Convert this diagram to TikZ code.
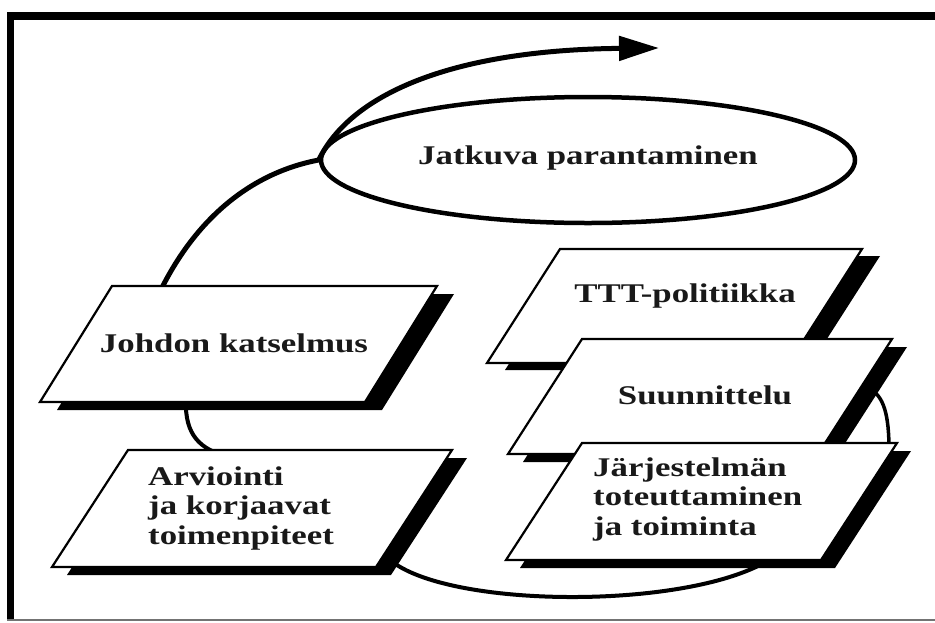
\documentclass[tikz,border=0pt]{standalone}
\usepackage{fontspec}
\newfontfamily\labfont{Liberation Serif}[FakeStretch=1.29]
\usetikzlibrary{arrows.meta,shapes.geometric}
\newcommand\pbox[7]{% TLx TLy width height slant shx shy
  \fill[black] (#1+#6,#2+#7) -- ++(#3,0) -- ++(-#5,#4) -- ++(-#3,0) -- cycle;
  \draw[boxline] (#1,#2) -- ++(#3,0) -- ++(-#5,#4) -- ++(-#3,0) -- cycle;
}
\begin{document}
\begin{tikzpicture}[x=1pt,y=-1pt,
  lab/.style={font=\labfont\bfseries\fontsize{27}{29.5}\selectfont, inner sep=0pt, text=black!90},
  boxline/.style={draw=black, line width=2.2pt, fill=white, line join=miter},
  bigarc/.style={line width=5pt},
  link/.style={line width=4pt},
  ell/.style={ellipse, draw, line width=4.5pt, minimum width=534pt, minimum height=126pt, inner sep=0pt}]
\useasboundingbox (0,0) rectangle (935,622);
\fill[white] (0,0) rectangle (935,622);
% frame
\fill[black] (7,12) rectangle (935,20);
\fill[black] (7,12) rectangle (14,621);
\draw[black!55, line width=1.5pt] (7,620) -- (935,620);

% ellipse
\node[ell] (jp) at (588,160) {};
\node[lab] (jptext) at (588,158) {Jatkuva parantaminen};

% connector coordinates
\coordinate (jtop) at (156,300);
\coordinate (tip) at (659,48);
\coordinate (jbot) at (186,395);
\coordinate (atop) at (225,456);
\coordinate (arb) at (390,560);
\coordinate (jjb) at (775,556);
\coordinate (sur) at (868,388);
\coordinate (jjt) at (889,450);

% connectors
\draw[bigarc] (jtop) .. controls (195,215) and (255,172) .. (jp.west);
\draw[bigarc, -{Triangle[length=40pt,width=24pt]}] (jp.west) .. controls (350,95) and (450,50) .. (tip);
\draw[link] (jbot) .. controls (184,430) and (195,447) .. (atop);
\draw[link] (arb) .. controls (450,610) and (700,610) .. (jjb);
\draw[line width=3.5pt] (sur) .. controls (884,395) and (889,415) .. (jjt);

% boxes
\pbox{112}{286}{325}{116}{72}{17}{8}
\node[lab] (johdon) at (234,343) {Johdon katselmus};

\pbox{128}{450}{324}{117}{76}{15}{8}
\node[lab, align=left, anchor=west] (arv) at (148,508) {Arviointi\\ja korjaavat\\toimenpiteet};

\pbox{560}{249}{302}{114}{73}{18}{7}
\node[lab] (ttt) at (685,296) {TTT-politiikka};

\pbox{582}{339}{310}{115}{74}{15}{8}
\node[lab] (suun) at (705,395) {Suunnittelu};

\pbox{582}{443}{315}{117}{76}{14}{8}
\node[lab, align=left, anchor=west] (jarj) at (593,499) {Järjestelmän\\toteuttaminen\\ja toiminta};
\end{tikzpicture}
\end{document}
